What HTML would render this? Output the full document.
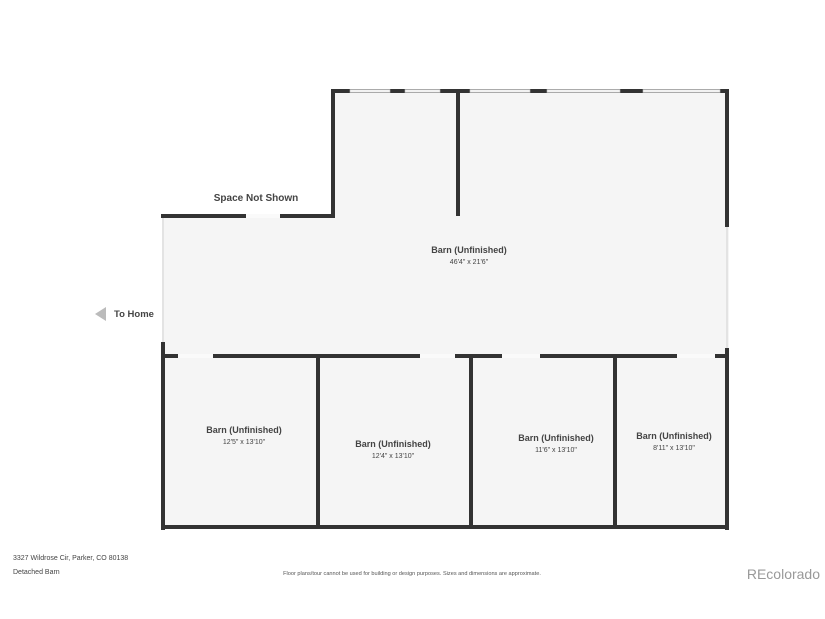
<!DOCTYPE html>
<html><head><style>
html,body{margin:0;padding:0;background:#fff;}
svg{display:block;font-family:"Liberation Sans",sans-serif;}
</style></head><body>
<svg width="825" height="619" viewBox="0 0 825 619" xmlns="http://www.w3.org/2000/svg">
<path d="M333 91 H729 V528 H162 V216 H333 Z" fill="#f5f5f5"/>
<g fill="#333">
<rect x="331" y="89" width="398" height="4"/>
<rect x="331" y="89" width="4" height="129"/>
<rect x="161" y="214" width="174" height="4"/>
<rect x="456" y="89" width="4" height="127"/>
<rect x="725" y="89" width="4" height="138"/>
<rect x="725" y="348" width="4" height="182"/>
<rect x="161" y="342" width="4" height="188"/>
<rect x="161" y="354" width="568" height="4"/>
<rect x="316" y="354" width="4" height="174"/>
<rect x="469" y="354" width="4" height="174"/>
<rect x="613" y="354" width="4" height="174"/>
<rect x="161" y="525" width="568" height="4"/>
</g>
<g fill="#f2f2f2" stroke="#bbb" stroke-width="0.6">
<rect x="350" y="89.5" width="40" height="3"/>
<rect x="405" y="89.5" width="35" height="3"/>
<rect x="470" y="89.5" width="60" height="3"/>
<rect x="547" y="89.5" width="73" height="3"/>
<rect x="643" y="89.5" width="77" height="3"/>
</g>
<g fill="#fafafa">
<rect x="246" y="214" width="34" height="4"/>
<rect x="178" y="354" width="35" height="4"/>
<rect x="420" y="354" width="35" height="4"/>
<rect x="502" y="354" width="38" height="4"/>
<rect x="677" y="354" width="38" height="4"/>
</g>
<line x1="163" y1="218" x2="163" y2="342" stroke="#ddd" stroke-width="1.5"/>
<line x1="727" y1="227" x2="727" y2="348" stroke="#ddd" stroke-width="1.5"/>
<g fill="#444" text-anchor="middle">
<text x="256" y="201" font-size="10" font-weight="bold">Space Not Shown</text>
<text x="469" y="253" font-size="9" font-weight="bold">Barn (Unfinished)</text>
<text x="469" y="264" font-size="7">46'4" x 21'6"</text>
<text x="244" y="433" font-size="9" font-weight="bold">Barn (Unfinished)</text>
<text x="244" y="444" font-size="7">12'5" x 13'10"</text>
<text x="393" y="447" font-size="9" font-weight="bold">Barn (Unfinished)</text>
<text x="393" y="458" font-size="7">12'4" x 13'10"</text>
<text x="556" y="441" font-size="9" font-weight="bold">Barn (Unfinished)</text>
<text x="556" y="452" font-size="7">11'6" x 13'10"</text>
<text x="674" y="439" font-size="9" font-weight="bold">Barn (Unfinished)</text>
<text x="674" y="450" font-size="7">8'11" x 13'10"</text>
</g>
<polygon points="95,314 106,307 106,321" fill="#bbb"/>
<text x="114" y="317" font-size="9.5" font-weight="bold" fill="#444">To Home</text>
<text x="13" y="560" font-size="7" fill="#444">3327 Wildrose Cir, Parker, CO 80138</text>
<text x="13" y="574" font-size="7" fill="#444">Detached Barn</text>
<text x="412" y="575" font-size="5.6" fill="#555" text-anchor="middle">Floor plans/tour cannot be used for building or design purposes. Sizes and dimensions are approximate.</text>
<text x="820" y="579" font-size="14" fill="#999" text-anchor="end">REcolorado</text>
</svg>
</body></html>
